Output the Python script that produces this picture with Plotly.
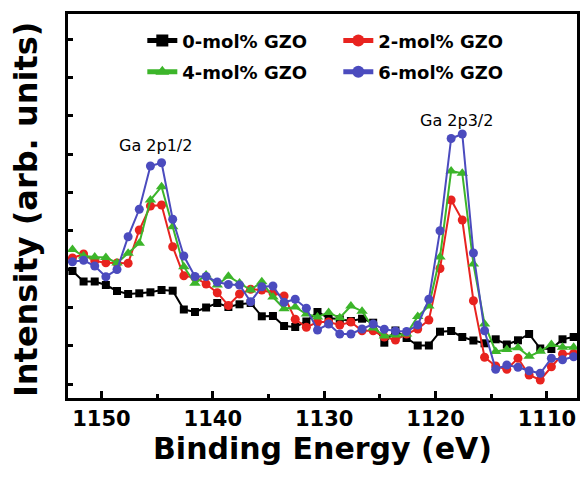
import plotly.graph_objects as go

energy = [1152.6, 1151.6, 1150.6, 1149.6, 1148.6, 1147.6, 1146.6, 1145.6, 1144.6, 1143.6,
          1142.6, 1141.6, 1140.6, 1139.6, 1138.6, 1137.6, 1136.6, 1135.6, 1134.6, 1133.6,
          1132.6, 1131.6, 1130.6, 1129.6, 1128.6, 1127.6, 1126.6, 1125.6, 1124.6, 1123.6,
          1122.6, 1121.6, 1120.6, 1119.6, 1118.6, 1117.6, 1116.6, 1115.6, 1114.6, 1113.6,
          1112.6, 1111.6, 1110.6, 1109.6, 1108.6, 1107.6]

gzo0 = [113, 102.5, 102.5, 99, 93, 90, 90.7, 91.7, 94, 93.3,
        74.5, 72, 76.5, 81, 77, 79.7, 81, 67.7, 68, 58,
        57, 62.5, 72, 66, 64.7, 63, 65.3, 61.3, 41.3, 53.5,
        46, 38.5, 38.5, 52.3, 53, 47, 43.5, 40.7, 44.7, 39.5,
        43.7, 50, 35.5, 35, 44.7, 47]

gzo2 = [126, 130, 123, 121.3, 121, 120.7, 154, 178, 179, 137.3,
        108.2, 106.5, 100, 91.3, 78.5, 90, 94.7, 94, 91, 88,
        64.8, 56.7, 62, 62, 59, 62, 53.3, 53.3, 47, 44,
        50, 55, 64, 115.5, 184, 164, 83.3, 26.7, 18, 14.7,
        25.7, 9, 4, 17.3, 30, 30.5]

gzo4 = [134.5, 128, 127, 126.5, 121, 130.7, 140.7, 184, 197.3, 157.3,
        117.3, 100.7, 109, 99, 107.7, 101, 94, 102.3, 87, 75.2,
        77, 70, 67, 71.5, 66.2, 78, 72.8, 56, 48, 49,
        50, 67.5, 78, 127, 213, 210.7, 120, 60, 32.5, 34.5,
        36.2, 27.7, 32.7, 39.5, 36.7, 36.7]

gzo6 = [122.3, 123.7, 118, 107.3, 114.5, 147.3, 174.7, 218, 221.3, 164.7,
        128, 107.5, 107.5, 102, 99.5, 99, 82.3, 97.3, 98, 81.7,
        84.7, 75.7, 54, 60, 50, 50, 55, 60, 54.7, 53,
        52.5, 59, 84.7, 153.3, 245.5, 250, 131, 53.3, 14.7, 19,
        16.7, 13.3, 10.7, 25.7, 24.3, 27.3]

names = ["0-mol% GZO", "2-mol% GZO", "4-mol% GZO", "6-mol% GZO"]
colors = ["#000000", "#E8231F", "#3CB52A", "#4B4BBE"]
symbols = ["square", "circle", "triangle-up", "circle"]
sizes = [8, 9, 10, 9]
legend_rows = ["legend", "legend", "legend2", "legend2"]

peak_labels = ["Ga 2p1/2", "Ga 2p3/2"]
peak_x = [1145.1, 1118.1]
peak_y = [239, 264]

FONT = "DejaVu Sans"

fig = go.Figure()
for ys, nm, c, s, sz, lg in zip([gzo0, gzo2, gzo4, gzo6], names, colors, symbols, sizes, legend_rows):
    fig.add_trace(go.Scatter(
        x=energy, y=ys, name=nm, mode="lines+markers",
        line=dict(color=c, width=2),
        marker=dict(symbol=s, size=sz, color=c),
        legend=lg,
    ))

for t, xx, yy in zip(peak_labels, peak_x, peak_y):
    fig.add_annotation(x=xx, y=yy, text=t, showarrow=False,
                       font=dict(family=FONT, size=16, color="black"))

fig.add_annotation(xref="paper", yref="paper", x=-0.082, y=0.49, xanchor="center", yanchor="middle",
                   text="<b>Intensity (arb. units)</b>",
                   textangle=-90, showarrow=False, font=dict(family=FONT, size=32, color="black"))

leg_common = dict(orientation="h", xanchor="left", yanchor="middle",
                  entrywidth=151, entrywidthmode="pixels",
                  font=dict(family=FONT, size=18, color="black", weight="bold"),
                  bgcolor="rgba(0,0,0,0)", itemsizing="constant")

fig.update_layout(
    width=585, height=477,
    margin=dict(l=68, r=5, t=14, b=79),
    plot_bgcolor="white", paper_bgcolor="white",
    showlegend=True,
    legend=dict(x=0.146, y=0.93, **leg_common),
    legend2=dict(x=0.146, y=0.849, **leg_common),
    xaxis=dict(range=[1153, 1107.3], showgrid=False, zeroline=False,
               showline=True, linecolor="black", linewidth=3, mirror=True,
               ticks="inside", ticklen=7, tickwidth=2.5, tickcolor="black",
               tick0=1150, dtick=10,
               minor=dict(ticks="inside", ticklen=4, tickwidth=2.5, tickcolor="black", dtick=5),
               tickfont=dict(family=FONT, size=21, color="black", weight="bold"),
               title=dict(text="<b>Binding Energy (eV)</b>", standoff=6,
                          font=dict(family=FONT, size=30, color="black"))),
    yaxis=dict(range=[-14, 370], showgrid=False, zeroline=False,
               showline=True, linecolor="black", linewidth=3, mirror=True,
               ticks="inside", ticklen=5, tickwidth=2.5, tickcolor="black",
               tick0=0, dtick=38.33, showticklabels=False),
)

fig.write_html("out.html", config={"displayModeBar": False},
               post_script="document.body.style.margin='0px';document.body.style.overflow='hidden';")
